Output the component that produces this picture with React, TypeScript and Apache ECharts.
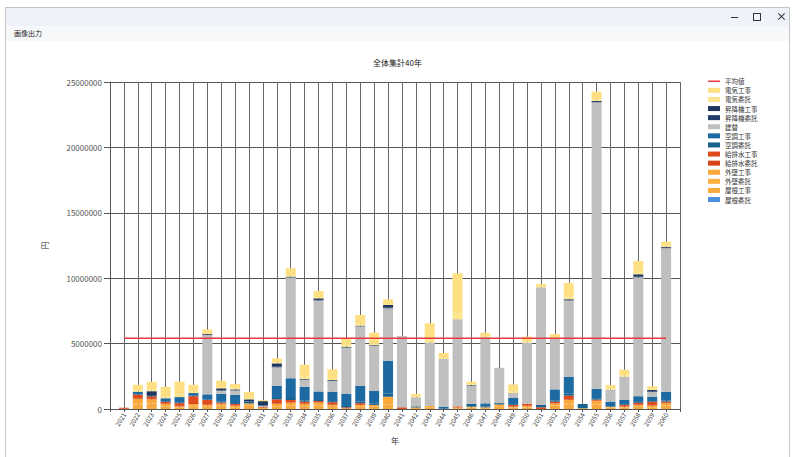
import React, { useEffect, useRef } from "react";
import * as echarts from "echarts";

const years = [
  "2021","2022","2023","2024","2025","2026","2027","2028","2029","2030",
  "2031","2032","2033","2034","2035","2036","2037","2038","2039","2040",
  "2041","2042","2043","2044","2045","2046","2047","2048","2049","2050",
  "2051","2052","2053","2054","2055","2056","2057","2058","2059","2060",
];

const yTicks = [0, 5000000, 10000000, 15000000, 20000000, 25000000];

// 屋根委託
const roofCommission = [
  0,0,0,0,0,0,0,0,0,0,
  0,0,0,0,0,0,0,0,0,0,
  0,0,0,0,0,0,0,0,0,0,
  0,0,0,0,0,0,0,0,0,0,
];
// 屋根工事
const roofWork = [
  20000,350000,400000,180000,100000,200000,150000,220000,120000,250000,
  100000,200000,250000,200000,250000,150000,50000,150000,160000,300000,
  0,120000,120000,0,60000,100000,70000,200000,100000,120000,
  0,230000,350000,60000,320000,100000,90000,150000,120000,250000,
];
// 外壁委託
const wallCommission = [
  0,40000,30000,20000,20000,30000,20000,30000,20000,30000,
  0,30000,30000,30000,40000,20000,0,20000,20000,60000,
  0,0,20000,0,0,20000,0,30000,20000,20000,
  0,30000,40000,0,40000,20000,20000,30000,20000,30000,
];
// 外壁工事
const wallWork = [
  0,380000,310000,180000,80000,150000,140000,150000,110000,150000,
  0,150000,200000,150000,200000,130000,0,130000,130000,580000,
  0,0,100000,0,60000,60000,60000,120000,60000,90000,
  0,170000,300000,0,260000,60000,70000,120000,130000,170000,
];
// 給排水委託
const plumbingCommission = [
  0,50000,30000,30000,40000,80000,50000,20000,20000,0,
  0,50000,30000,30000,20000,30000,0,20000,0,0,
  0,0,0,0,0,0,0,0,20000,30000,
  0,20000,50000,0,20000,0,20000,30000,40000,20000,
];
// 給排水工事
const plumbingWork = [
  80000,280000,190000,150000,210000,520000,330000,80000,110000,0,
  50000,310000,180000,150000,100000,190000,80000,130000,0,0,
  130000,0,0,0,80000,0,0,0,110000,140000,
  130000,110000,280000,0,80000,0,110000,150000,250000,100000,
];
// 空調委託
const hvacCommission = [
  0,40000,0,50000,60000,40000,50000,80000,70000,130000,
  0,100000,150000,100000,80000,80000,100000,120000,100000,250000,
  0,80000,0,30000,0,200000,50000,100000,60000,0,
  180000,100000,150000,320000,100000,50000,50000,60000,50000,80000,
];
// 空調工事
const hvacWork = [
  0,180000,0,210000,400000,200000,380000,570000,620000,0,
  0,940000,1510000,1020000,650000,720000,940000,1190000,970000,2500000,
  0,0,0,150000,0,0,250000,0,480000,0,
  0,840000,1300000,0,720000,330000,330000,440000,330000,670000,
];
// 建替
const rebuild = [
  0,0,0,0,0,0,4530000,250000,350000,0,
  100000,1410000,7700000,550000,6960000,830000,3520000,4560000,3460000,4010000,
  5450000,700000,4850000,3650000,6660000,1400000,5050000,2700000,380000,4670000,
  8990000,3900000,5830000,0,21910000,920000,1780000,9090000,360000,10980000,
];
// 昇降機委託
const elevatorCommission = [
  0,0,50000,0,0,0,20000,30000,20000,30000,
  50000,50000,20000,20000,40000,20000,20000,20000,20000,50000,
  0,0,0,0,0,20000,0,0,0,0,
  0,0,30000,0,30000,0,0,50000,40000,30000,
];
// 昇降機工事
const elevatorWork = [
  0,0,350000,0,0,0,60000,150000,60000,150000,
  300000,250000,50000,40000,120000,50000,50000,30000,30000,200000,
  0,0,0,0,0,30000,0,0,0,0,
  0,0,60000,0,70000,0,0,180000,110000,70000,
];
// 電気委託
const electricCommission = [
  0,100000,120000,150000,200000,100000,80000,100000,80000,100000,
  20000,80000,120000,200000,100000,150000,100000,150000,150000,80000,
  0,50000,250000,80000,500000,50000,70000,0,120000,80000,
  50000,60000,200000,0,120000,70000,100000,180000,50000,70000,
];
// 電気工事
const electricWork = [
  0,430000,600000,710000,980000,530000,280000,480000,330000,460000,
  60000,300000,520000,900000,460000,660000,490000,670000,790000,360000,
  0,200000,1210000,370000,3010000,210000,280000,0,530000,380000,
  210000,270000,1040000,0,590000,280000,430000,830000,230000,320000,
];

const AVERAGE = 5400000;

const stackSeries = [
  { name: "屋根委託", data: roofCommission, color: "#4a8fe0" },
  { name: "屋根工事", data: roofWork, color: "#f6a93f" },
  { name: "外壁委託", data: wallCommission, color: "#fbb040" },
  { name: "外壁工事", data: wallWork, color: "#fba93a" },
  { name: "給排水委託", data: plumbingCommission, color: "#d8431a" },
  { name: "給排水工事", data: plumbingWork, color: "#e04b1c" },
  { name: "空調委託", data: hvacCommission, color: "#17628f" },
  { name: "空調工事", data: hvacWork, color: "#1d6aa3" },
  { name: "建替", data: rebuild, color: "#bfbfbf" },
  { name: "昇降機委託", data: elevatorCommission, color: "#213d6b" },
  { name: "昇降機工事", data: elevatorWork, color: "#1e3560" },
  { name: "電気委託", data: electricCommission, color: "#fde58e" },
  { name: "電気工事", data: electricWork, color: "#fee083" },
];

const FONT = '"Noto Sans CJK JP", "Noto Sans", sans-serif';

function Chart() {
  const ref = useRef<HTMLDivElement>(null);
  useEffect(() => {
    if (!ref.current) return;
    const chart = echarts.init(ref.current, undefined, { renderer: "svg" });
    const cats = ["", ...years, ""];
    const pad = (arr: number[]) => [null, ...arr, null];
    const series: any[] = stackSeries.map((s) => ({
      name: s.name,
      type: "bar",
      stack: "total",
      barWidth: 10,
      data: pad(s.data),
      itemStyle: { color: s.color },
    }));
    series.push({
      name: "平均値",
      type: "line",
      symbol: "none",
      data: pad(years.map(() => AVERAGE)),
      lineStyle: { color: "#e8393e", width: 1.5 },
      itemStyle: { color: "#e8393e" },
      z: 5,
    });
    const legendData: any[] = [
      { name: "平均値", icon: "path://M0,0H12V1.5H0Z" },
    ];
    for (let i = stackSeries.length - 1; i >= 0; i--) {
      legendData.push({ name: stackSeries[i].name, icon: "rect" });
    }
    chart.setOption({
      animation: false,
      backgroundColor: "transparent",
      textStyle: { fontFamily: FONT },
      title: {
        text: "全体集計40年",
        left: "center",
        top: 53,
        textStyle: { fontSize: 8, fontWeight: "normal", color: "#222", fontFamily: FONT },
      },
      legend: {
        orient: "vertical",
        left: 708,
        top: 78,
        itemWidth: 12,
        itemHeight: 5,
        itemGap: 2.6,
        padding: 0,
        data: legendData,
        textStyle: { fontSize: 6.5, lineHeight: 6, color: "#333", fontFamily: FONT },
      },
      grid: { left: 110, top: 82, width: 570, height: 327, containLabel: false },
      xAxis: {
        type: "category",
        data: cats,
        boundaryGap: false,
        name: "年",
        nameLocation: "middle",
        nameGap: 27,
        nameTextStyle: { fontSize: 8, color: "#333", fontFamily: FONT },
        axisLine: { lineStyle: { color: "#555", width: 1 } },
        axisTick: { show: true, interval: 0, length: 3, lineStyle: { color: "#555" } },
        axisLabel: {
          interval: 0,
          rotate: 60,
          fontSize: 6.5,
          color: "#444",
          margin: 4,
          fontFamily: FONT,
          formatter: (v: string) => v,
        },
        splitLine: { show: true, interval: 0, lineStyle: { color: "#666", width: 1 } },
      },
      yAxis: {
        type: "value",
        min: yTicks[0],
        max: yTicks[yTicks.length - 1],
        interval: 5000000,
        name: "円",
        nameLocation: "middle",
        nameGap: 62,
        nameTextStyle: { fontSize: 8, color: "#333", fontFamily: FONT },
        axisLine: { show: true, lineStyle: { color: "#555", width: 1 } },
        axisTick: { show: true, length: 6, lineStyle: { color: "#555" } },
        axisLabel: {
          fontSize: 8,
          color: "#555",
          margin: 8,
          fontFamily: FONT,
          formatter: (v: number) => String(v),
        },
        splitLine: { show: true, lineStyle: { color: "#555", width: 1 } },
      },
      series,
    });
    return () => chart.dispose();
  }, []);
  return (
    <div
      ref={ref}
      style={{ position: "absolute", left: 0, top: 0, width: 795, height: 457 }}
    />
  );
}

export default function App() {
  return (
    <div
      style={{
        position: "fixed",
        left: 0,
        top: 0,
        width: 795,
        height: 457,
        background: "#ffffff",
        overflow: "hidden",
        fontFamily: FONT,
      }}
    >
      <div
        style={{
          position: "absolute",
          left: 5,
          top: 7,
          width: 785,
          height: 460,
          border: "1px solid #c4c4c4",
          background: "#ffffff",
          boxSizing: "border-box",
        }}
      >
        <div
          style={{
            position: "absolute",
            left: 0,
            top: 0,
            right: 0,
            height: 18,
            background: "#eff2f8",
          }}
        />
        <div
          style={{
            position: "absolute",
            left: 0,
            top: 18,
            right: 0,
            height: 15,
            background: "#f7f8fa",
          }}
        />
        <div
          style={{
            position: "absolute",
            left: 8,
            top: 20,
            fontSize: 7,
            lineHeight: "10px",
            color: "#222",
          }}
        >
          画像出力
        </div>
        <div
          style={{
            position: "absolute",
            left: 725,
            top: 9,
            width: 7,
            height: 1,
            background: "#333",
          }}
        />
        <div
          style={{
            position: "absolute",
            left: 747,
            top: 5,
            width: 6,
            height: 6,
            border: "1px solid #333",
          }}
        />
        <div
          style={{
            position: "absolute",
            left: 771,
            top: 8,
            width: 9,
            height: 1,
            background: "#333",
            transform: "rotate(45deg)",
          }}
        />
        <div
          style={{
            position: "absolute",
            left: 771,
            top: 8,
            width: 9,
            height: 1,
            background: "#333",
            transform: "rotate(-45deg)",
          }}
        />
      </div>
      <Chart />
    </div>
  );
}
